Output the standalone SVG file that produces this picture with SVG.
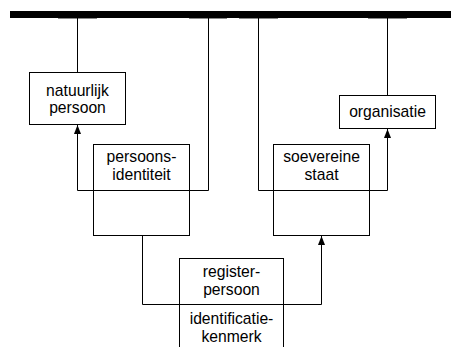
<svg xmlns="http://www.w3.org/2000/svg" width="451" height="347" viewBox="0 0 451 347">
  <defs>
    <marker id="arrow" markerWidth="9" markerHeight="7" refX="9" refY="3.5" orient="auto" markerUnits="userSpaceOnUse" viewBox="0 0 9 7">
      <path d="M0,0 L9,3.5 L0,7 Z" fill="#000"/>
    </marker>
  </defs>
  <style>
    .box { fill: #fff; stroke: #000; stroke-width: 1; }
    .line { fill: none; stroke: #000; stroke-width: 1; }
    .tab { fill: #888; }
    text { font-family: "Liberation Sans", Arial, sans-serif; font-size: 15.7px; fill: #000; text-anchor: middle; }
  </style>
  <rect width="451" height="347" fill="#fff"/>

  <!-- top bar with attachment tabs -->
  <g id="bar">
    <rect x="10" y="11" width="441" height="7" fill="#000"/>
    <rect class="tab" x="58" y="18" width="39" height="1"/>
    <rect class="tab" x="189" y="18" width="38" height="1"/>
    <rect class="tab" x="239" y="18" width="39" height="1"/>
    <rect class="tab" x="368" y="18" width="39" height="1"/>
  </g>

  <g id="connectors">
    <path class="line" d="M77.5,18 V72"/>
    <path class="line" d="M387.5,18 V95"/>
    <path class="line" d="M208.5,18 V190.5 H77.5 V125" marker-end="url(#arrow)"/>
    <path class="line" d="M258.5,18 V190.5 H387.5 V129" marker-end="url(#arrow)"/>
    <path class="line" d="M142.5,236 V304.5 H321.5 V236" marker-end="url(#arrow)"/>
  </g>

  <g id="natuurlijk-persoon">
    <rect class="box" x="29.5" y="72.5" width="96" height="52"/>
    <text x="77.5" y="96">natuurlijk</text>
    <text x="77.5" y="113">persoon</text>
  </g>

  <g id="organisatie">
    <rect class="box" x="339.5" y="95.5" width="96" height="33"/>
    <text x="387.5" y="117">organisatie</text>
  </g>

  <g id="persoons-identiteit">
    <rect class="box" x="93.5" y="144.5" width="96" height="91" fill-opacity="0"/>
    <text x="141.5" y="162">persoons-</text>
    <text x="141.5" y="180">identiteit</text>
  </g>

  <g id="soevereine-staat">
    <rect class="box" x="273.5" y="144.5" width="96" height="91" fill-opacity="0"/>
    <text x="321.5" y="162">soevereine</text>
    <text x="321.5" y="180">staat</text>
  </g>

  <g id="registerpersoon">
    <rect class="box" x="179.5" y="258.5" width="104" height="95" fill-opacity="0"/>
    <line class="line" x1="179.5" y1="304.5" x2="283.5" y2="304.5"/>
    <text x="231.5" y="277">register-</text>
    <text x="231.5" y="295">persoon</text>
    <text x="231.5" y="324">identificatie-</text>
    <text x="231.5" y="342">kenmerk</text>
  </g>
</svg>
